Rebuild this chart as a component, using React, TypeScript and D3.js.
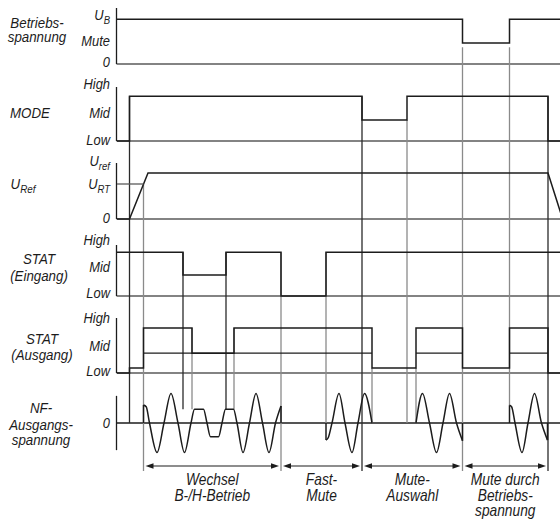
import React from 'react';
import * as d3 from 'd3';

// ---------- data (time in arbitrary units, levels as fractions of each panel) ----------
const T_END = 222;

const betriebsSteps: [number, number][] = [[0, 0.8], [172.75, 0.375], [196.25, 0.8], [222, 0.8]];
const modeSteps: [number, number][] = [[0, 0], [6.25, 0.83], [122.5, 0.39], [145, 0.83], [215.5, 0], [222, 0]];
const urefPoints: [number, number][] = [[0, 0], [6.25, 0], [15.5, 0.82], [215.5, 0.82], [222, 0.09]];
const urtMark: [number, number][] = [[0, 0.625], [13.25, 0.625]];
const statInSteps: [number, number][] = [[0, 0.86], [33, 0.41], [54.5, 0.86], [82, 0], [104.5, 0.86], [222, 0.86]];
const statOutSteps: [number, number][] = [
  [0, 0], [6.25, 0.09], [13.25, 0.82], [37.5, 0.36], [58.5, 0.82], [127.5, 0.09],
  [149.5, 0.82], [172.75, 0.09], [196.25, 0.82], [215.5, 0], [222, 0],
];
const statOutMidLevel = 0.36;
const statOutMidSpans: [number, number][] = [[13.25, 127.5], [149.5, 172.75], [196.25, 215.5]];

const nfBurst1: [number, number][] = [
  [13.25, 0.61], [14.6, 0.55], [16.25, 0], [20, -1], [23.5, 0], [27, 1], [30.5, 0], [33.75, -1],
  [37, 0], [38.75, 0.47], [43.25, 0.47], [45, 0], [46.75, -0.47], [50.75, -0.47], [52.5, 0],
  [54.25, 0.47], [58.25, 0.47], [60, 0], [63, -1], [66.25, 0], [69.5, 1], [72.75, 0], [76, -1],
  [79.25, 0], [82, 0.58],
];
const nfBurst2: [number, number][] = [
  [104.5, -0.58], [105.6, -0.5], [107.5, 0], [111, 1], [114, 0], [117.5, -1], [120.5, 0], [123.75, 1], [127.5, 0],
];
const nfBurst3: [number, number][] = [
  [149.5, 0], [152.75, 1], [156.25, 0], [159.75, -1], [163, 0], [166.25, 1], [169.75, 0], [172.75, -0.6],
];
const nfBurst4: [number, number][] = [
  [196.25, 0.6], [197.3, 0.55], [199, 0], [202.5, -1], [205.5, 0], [208.75, 1], [212.25, 0], [215.25, -0.58],
];
const nfBursts = [nfBurst1, nfBurst2, nfBurst3, nfBurst4];

type Anchor = [string, number] | 'arrow';
const markers: { t: number; from: Anchor; to: Anchor; dark?: boolean }[] = [
  { t: 6.25, from: ['mode', 0.83], to: ['nf', 0], dark: true },
  { t: 13.25, from: ['uref', 0.625], to: 'arrow' },
  { t: 33, from: ['statIn', 0.86], to: ['nf', 0.47], dark: true },
  { t: 37.5, from: ['statOut', 0.82], to: ['nf', 0.47] },
  { t: 54.5, from: ['statIn', 0.86], to: ['nf', 0.47], dark: true },
  { t: 58.5, from: ['statOut', 0.82], to: ['nf', 0.47] },
  { t: 82, from: ['statIn', 0.86], to: 'arrow' },
  { t: 104.5, from: ['statIn', 0.86], to: ['nf', 0] },
  { t: 122.5, from: ['mode', 0.83], to: 'arrow', dark: true },
  { t: 127.5, from: ['statOut', 0.09], to: ['nf', 0] },
  { t: 145, from: ['mode', 0.39], to: ['nf', 0] },
  { t: 149.5, from: ['statOut', 0.09], to: ['nf', 0] },
  { t: 172.75, from: ['betr', 0.3], to: 'arrow' },
  { t: 196.25, from: ['betr', 0.3], to: ['nf', 0.6] },
  { t: 215.5, from: ['mode', 0.83], to: 'arrow', dark: true },
];

const phases: [number, number][] = [[13.25, 82], [82, 122.5], [122.5, 172.75], [172.75, 215.5]];
const phaseLabels: string[][] = [
  ['Wechsel', 'B-/H-Betrieb'],
  ['Fast-', 'Mute'],
  ['Mute-', 'Auswahl'],
  ['Mute durch', 'Betriebs-', 'spannung'],
];

const rowTitles: { lines: string[]; sub?: string; cx: number; ys: number[] }[] = [
  { lines: ['Betriebs-', 'spannung'], cx: 37, ys: [28, 42] },
  { lines: ['MODE'], cx: 30, ys: [118] },
  { lines: ['U'], sub: 'Ref', cx: 23, ys: [189] },
  { lines: ['STAT', '(Eingang)'], cx: 39, ys: [264, 281] },
  { lines: ['STAT', '(Ausgang)'], cx: 42, ys: [344, 360] },
  { lines: ['NF-', 'Ausgangs-', 'spannung'], cx: 41, ys: [413, 430, 445] },
];

const tickLabels: { t: string; s?: string; y: number }[] = [
  { t: 'U', s: 'B', y: 20 }, { t: 'Mute', y: 46 }, { t: '0', y: 67 },
  { t: 'High', y: 89 }, { t: 'Mid', y: 118 }, { t: 'Low', y: 145 },
  { t: 'U', s: 'ref', y: 166 }, { t: 'U', s: 'RT', y: 189 }, { t: '0', y: 223 },
  { t: 'High', y: 245 }, { t: 'Mid', y: 272 }, { t: 'Low', y: 298 },
  { t: 'High', y: 323 }, { t: 'Mid', y: 351 }, { t: 'Low', y: 376 },
  { t: '0', y: 428 },
];

// ---------- layout ----------
const W = 560;
const H = 519;
const AXIS_X = 116.5;
const panels: Record<string, { top: number; base: number }> = {
  betr: { top: 8, base: 64 },
  mode: { top: 87, base: 141 },
  uref: { top: 163, base: 219 },
  statIn: { top: 245, base: 296 },
  statOut: { top: 318, base: 373 },
};
const NF_ZERO = 423;
const NF_AMP = 29.5;
const ARROW_Y = 466;
const MARK_BOTTOM = 471;

const FONT = "'Liberation Sans', Arial, sans-serif";
const SX = 0.86;
const INK = '#1c1c1c';
const GREY = '#8a8a8a';
const BASE = '#5a5a5a';

function CText(props: { x: number; y: number; anchor: string; size: number; text: string; sub?: string }) {
  const { x, y, anchor, size, text, sub } = props;
  return (
    <g transform={`translate(${x},${y}) scale(${SX},1)`}>
      <text x={0} y={0} textAnchor={anchor} fontSize={size} fill={INK} fontFamily={FONT} fontStyle="italic">
        {text}
        {sub && <tspan fontSize={size * 0.74} dy={4}>{sub}</tspan>}
      </text>
    </g>
  );
}

export default function App() {
  const x = d3.scaleLinear().domain([0, T_END]).range([117, 117 + T_END * 2]);
  const yOf = (key: string) => {
    if (key === 'nf') return d3.scaleLinear().domain([-1, 1]).range([NF_ZERO + NF_AMP, NF_ZERO - NF_AMP]);
    const p = panels[key];
    return d3.scaleLinear().domain([0, 1]).range([p.base, p.top]);
  };
  const anchorY = (a: Anchor) => (a === 'arrow' ? MARK_BOTTOM : yOf(a[0])(a[1]));

  const stepLine = (key: string, data: [number, number][]) =>
    d3.line<[number, number]>().x(d => x(d[0])).y(d => yOf(key)(d[1])).curve(d3.curveStepAfter)(data) || '';
  const linLine = (key: string, data: [number, number][]) =>
    d3.line<[number, number]>().x(d => x(d[0])).y(d => yOf(key)(d[1]))(data) || '';
  const waveLine = d3.line<[number, number]>().x(d => x(d[0])).y(d => yOf('nf')(d[1])).curve(d3.curveMonotoneX);

  const panelKeys = Object.keys(panels);

  return (
    <svg width={W} height={H} style={{ position: 'absolute', left: 0, top: 0, background: '#fff' }}>
      <rect width={W} height={H} fill="#fff" />
      {/* baselines */}
      {panelKeys.map(k => (
        <line key={'b' + k} x1={AXIS_X} x2={W} y1={panels[k].base} y2={panels[k].base} stroke={BASE} strokeWidth={1.3} />
      ))}
      <line x1={AXIS_X} x2={W} y1={NF_ZERO} y2={NF_ZERO} stroke={INK} strokeWidth={1.3} />
      {/* axes */}
      {panelKeys.map(k => (
        <line key={'a' + k} x1={AXIS_X} x2={AXIS_X} y1={panels[k].top} y2={panels[k].base} stroke={INK} strokeWidth={1.3} />
      ))}
      <line x1={AXIS_X} x2={AXIS_X} y1={yOf('nf')(0.92)} y2={yOf('nf')(-0.92)} stroke={INK} strokeWidth={1.3} />

      {/* marker lines */}
      {markers.map((m, i) => (
        <line key={'m' + i} x1={x(m.t)} x2={x(m.t)} y1={anchorY(m.from)} y2={anchorY(m.to)}
          stroke={m.dark ? '#2a2a2a' : GREY} strokeWidth={1.3} />
      ))}

      {/* traces */}
      <path d={stepLine('betr', betriebsSteps)} fill="none" stroke={INK} strokeWidth={1.5} />
      <path d={stepLine('mode', modeSteps)} fill="none" stroke={INK} strokeWidth={1.5} />
      <path d={linLine('uref', urefPoints)} fill="none" stroke={INK} strokeWidth={1.5} />
      <path d={linLine('uref', urtMark)} fill="none" stroke={BASE} strokeWidth={1.3} />
      <path d={stepLine('statIn', statInSteps)} fill="none" stroke={INK} strokeWidth={1.5} />
      {statOutMidSpans.map((s, i) => (
        <path key={'mid' + i} d={linLine('statOut', [[s[0], statOutMidLevel], [s[1], statOutMidLevel]])}
          fill="none" stroke={INK} strokeWidth={1.3} />
      ))}
      <path d={stepLine('statOut', statOutSteps)} fill="none" stroke={INK} strokeWidth={1.5} />

      {/* NF bursts */}
      {nfBursts.map((b, i) => {
        const first = b[0];
        const last = b[b.length - 1];
        return (
          <g key={'nf' + i}>
            <path d={waveLine(b) || ''} fill="none" stroke={INK} strokeWidth={1.5} />
            {first[1] !== 0 && (
              <path d={linLine('nf', [[first[0], 0], first])} fill="none" stroke={INK} strokeWidth={1.5} />
            )}
            {last[1] !== 0 && (
              <path d={linLine('nf', [last, [last[0], 0]])} fill="none" stroke={INK} strokeWidth={1.5} />
            )}
          </g>
        );
      })}

      {/* phase arrows */}
      {phases.map((p, i) => {
        const x1 = x(p[0]) + 2;
        const x2 = x(p[1]) - 2;
        const cx = (x(p[0]) + x(p[1])) / 2;
        return (
          <g key={'ph' + i}>
            <line x1={x1 + 4} x2={x2 - 4} y1={ARROW_Y} y2={ARROW_Y} stroke={INK} strokeWidth={1.2} />
            <path d={`M${x1},${ARROW_Y}L${x1 + 8},${ARROW_Y - 2.8}L${x1 + 8},${ARROW_Y + 2.8}Z`} fill={INK} />
            <path d={`M${x2},${ARROW_Y}L${x2 - 8},${ARROW_Y - 2.8}L${x2 - 8},${ARROW_Y + 2.8}Z`} fill={INK} />
            {phaseLabels[i].map((l, j) => (
              <CText key={j} x={cx} y={485 + j * 15.5} anchor="middle" size={16} text={l} />
            ))}
          </g>
        );
      })}

      {/* row titles */}
      {rowTitles.map((r, i) => (
        <g key={'rt' + i}>
          {r.lines.map((l, j) => (
            <CText key={j} x={r.cx} y={r.ys[j]} anchor="middle" size={15.5} text={l} sub={r.sub} />
          ))}
        </g>
      ))}

      {/* tick labels */}
      {tickLabels.map((t, i) => (
        <CText key={'tl' + i} x={110} y={t.y} anchor="end" size={15} text={t.t} sub={t.s} />
      ))}
    </svg>
  );
}
